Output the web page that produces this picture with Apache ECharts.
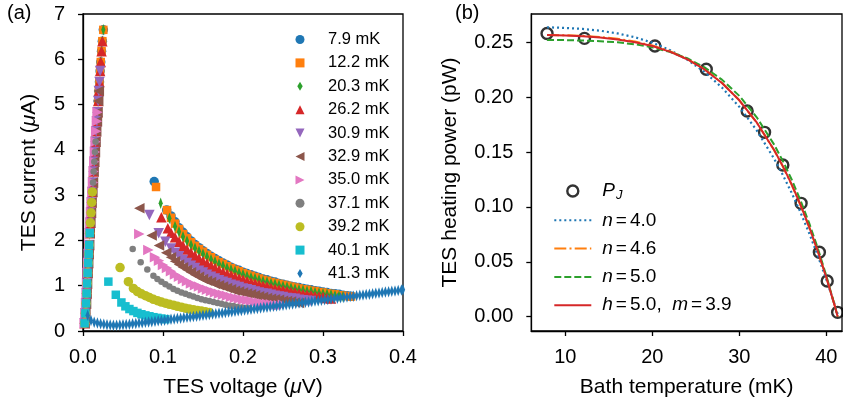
<!DOCTYPE html>
<html>
<head>
<meta charset="utf-8">
<script src="https://cdn.jsdelivr.net/npm/echarts@6/dist/echarts.min.js"></script>
<style>
  html, body { margin: 0; padding: 0; background: #fff; }
  #chart { width: 843px; height: 407px; }
</style>
</head>
<body>
<div id="chart"></div>
<script>
// ---- data: bath temperatures and heating power (panel b) ----
const bathT = [7.9, 12.2, 20.3, 26.2, 30.9, 32.9, 35.0, 37.1, 39.2, 40.1, 41.3];
const heatP = [0.258, 0.2536, 0.2466, 0.2254, 0.1874, 0.168, 0.1382, 0.1033, 0.0587, 0.0326, 0.004];

// fit curves
const fitT = [7.9, 10, 12, 14, 16, 18, 20, 22, 24, 26, 28, 30, 32, 34, 35, 36, 37, 38, 39, 40, 41, 41.3];
const fitN40 = [0.2637, 0.2631, 0.2622, 0.2606, 0.2581, 0.2546, 0.2497, 0.2430, 0.2342, 0.2230, 0.2088, 0.1912, 0.1698, 0.1439, 0.1292, 0.1131, 0.0956, 0.0766, 0.0561, 0.0339, 0.0101, 0.0025];
const fitN46 = [0.2567, 0.2564, 0.2559, 0.2548, 0.2532, 0.2507, 0.2471, 0.2420, 0.2350, 0.2255, 0.2131, 0.1972, 0.1769, 0.1517, 0.1368, 0.1204, 0.1022, 0.0821, 0.0601, 0.0360, 0.0094, 0.0];
const fitN50 = [0.2521, 0.2520, 0.2516, 0.2510, 0.2500, 0.2482, 0.2454, 0.2413, 0.2355, 0.2272, 0.2160, 0.2012, 0.1817, 0.1568, 0.1419, 0.1253, 0.1066, 0.0859, 0.0628, 0.0373, 0.0090, 0.0];
const fitHM = [0.2567, 0.2562, 0.2555, 0.2543, 0.2526, 0.2501, 0.2466, 0.2415, 0.2346, 0.2253, 0.2130, 0.1972, 0.1770, 0.1519, 0.1372, 0.1208, 0.1026, 0.0824, 0.0601, 0.0357, 0.0090, 0.0];

// ---- data: I-V curves (panel a), [voltage uV, current uA] ----
// superconducting branch, shared by all temperatures up to their critical current
const scBranch = [[0.0020, 0.17], [0.0030, 0.39], [0.0038, 0.61], [0.0045, 0.83], [0.0051, 1.05], [0.0058, 1.28], [0.0065, 1.50], [0.0071, 1.70], [0.0077, 1.90], [0.0084, 2.16], [0.0092, 2.39], [0.0100, 2.61], [0.0108, 2.84], [0.0117, 3.07], [0.0125, 3.28], [0.0133, 3.52], [0.0141, 3.74], [0.0149, 3.95], [0.0157, 4.18], [0.0165, 4.41], [0.0174, 4.63], [0.0182, 4.83], [0.0190, 5.08], [0.0198, 5.30], [0.0206, 5.50], [0.0214, 5.74], [0.0222, 5.94], [0.0232, 6.18], [0.0242, 6.40], [0.0254, 6.65]];
const scTop = [6.65, 6.65, 6.65, 6.40, 5.74, 5.30, 4.83, 4.18, 3.07, 2.16, 0];

const iv79 = [[0.089, 3.30], [0.1046, 2.67], [0.110, 2.54], [0.115, 2.41], [0.120, 2.28], [0.125, 2.18], [0.130, 2.08], [0.135, 1.99], [0.140, 1.91], [0.145, 1.84], [0.150, 1.77], [0.155, 1.71], [0.160, 1.65], [0.165, 1.60], [0.170, 1.55], [0.175, 1.50], [0.180, 1.46], [0.185, 1.41], [0.190, 1.37], [0.195, 1.34], [0.200, 1.30], [0.205, 1.27], [0.210, 1.24], [0.215, 1.21], [0.220, 1.18], [0.225, 1.15], [0.230, 1.13], [0.235, 1.10], [0.240, 1.08], [0.245, 1.05], [0.250, 1.03], [0.255, 1.01], [0.260, 0.99], [0.265, 0.97], [0.270, 0.96], [0.275, 0.94], [0.280, 0.92], [0.285, 0.91], [0.290, 0.89], [0.295, 0.88], [0.300, 0.86], [0.305, 0.85], [0.310, 0.83], [0.315, 0.82], [0.320, 0.81], [0.325, 0.79], [0.330, 0.78], [0.335, 0.77]];
const iv122 = [[0.0913, 3.18], [0.105, 2.67], [0.110, 2.50], [0.115, 2.37], [0.120, 2.25], [0.125, 2.14], [0.130, 2.05], [0.135, 1.96], [0.140, 1.88], [0.145, 1.81], [0.150, 1.75], [0.155, 1.68], [0.160, 1.63], [0.165, 1.57], [0.170, 1.52], [0.175, 1.48], [0.180, 1.43], [0.185, 1.39], [0.190, 1.35], [0.195, 1.32], [0.200, 1.28], [0.205, 1.25], [0.210, 1.22], [0.215, 1.19], [0.220, 1.16], [0.225, 1.13], [0.230, 1.11], [0.235, 1.08], [0.240, 1.06], [0.245, 1.04], [0.250, 1.02], [0.255, 1.00], [0.260, 0.98], [0.265, 0.96], [0.270, 0.94], [0.275, 0.92], [0.280, 0.91], [0.285, 0.89], [0.290, 0.88], [0.295, 0.86], [0.300, 0.85], [0.305, 0.83], [0.310, 0.82], [0.315, 0.81], [0.320, 0.79], [0.325, 0.78], [0.330, 0.77], [0.335, 0.76]];
const iv203 = [[0.0971, 2.82], [0.108, 2.49], [0.115, 2.31], [0.120, 2.19], [0.125, 2.08], [0.130, 1.99], [0.135, 1.90], [0.140, 1.83], [0.145, 1.76], [0.150, 1.70], [0.155, 1.64], [0.160, 1.58], [0.165, 1.53], [0.170, 1.48], [0.175, 1.44], [0.180, 1.39], [0.185, 1.35], [0.190, 1.32], [0.195, 1.28], [0.200, 1.25], [0.205, 1.21], [0.210, 1.18], [0.215, 1.16], [0.220, 1.13], [0.225, 1.10], [0.230, 1.08], [0.235, 1.05], [0.240, 1.03], [0.245, 1.01], [0.250, 0.99], [0.255, 0.97], [0.260, 0.95], [0.265, 0.93], [0.270, 0.91], [0.275, 0.90], [0.280, 0.88], [0.285, 0.87], [0.290, 0.85], [0.295, 0.84], [0.300, 0.82], [0.305, 0.81], [0.310, 0.80], [0.315, 0.78], [0.320, 0.77], [0.325, 0.76]];
const iv262 = [[0.098, 2.51], [0.106, 2.27], [0.110, 2.17], [0.115, 2.07], [0.120, 1.97], [0.125, 1.88], [0.130, 1.80], [0.135, 1.73], [0.140, 1.66], [0.145, 1.60], [0.150, 1.54], [0.155, 1.49], [0.160, 1.44], [0.165, 1.39], [0.170, 1.34], [0.175, 1.30], [0.180, 1.26], [0.185, 1.23], [0.190, 1.19], [0.195, 1.16], [0.200, 1.13], [0.205, 1.10], [0.210, 1.07], [0.215, 1.05], [0.220, 1.02], [0.225, 1.00], [0.230, 0.98], [0.235, 0.95], [0.240, 0.93], [0.245, 0.91], [0.250, 0.90], [0.255, 0.88], [0.260, 0.86], [0.265, 0.85], [0.270, 0.83], [0.275, 0.81], [0.280, 0.80], [0.285, 0.79], [0.290, 0.77], [0.295, 0.76], [0.300, 0.75], [0.305, 0.73], [0.310, 0.72]];
const iv309 = [[0.083, 2.56], [0.0946, 2.16], [0.103, 1.97], [0.110, 1.82], [0.115, 1.73], [0.120, 1.65], [0.125, 1.57], [0.130, 1.50], [0.135, 1.44], [0.140, 1.39], [0.145, 1.33], [0.150, 1.29], [0.155, 1.24], [0.160, 1.20], [0.165, 1.16], [0.170, 1.12], [0.175, 1.09], [0.180, 1.06], [0.185, 1.02], [0.190, 1.00], [0.195, 0.97], [0.200, 0.94], [0.205, 0.92], [0.210, 0.90], [0.215, 0.87], [0.220, 0.85], [0.225, 0.83], [0.230, 0.82], [0.235, 0.80], [0.240, 0.78], [0.245, 0.76], [0.250, 0.75], [0.255, 0.73], [0.260, 0.72], [0.265, 0.71], [0.270, 0.69], [0.275, 0.68], [0.280, 0.67], [0.285, 0.66]];
const iv329 = [[0.0704, 2.71], [0.0858, 2.11], [0.095, 1.89], [0.104, 1.73], [0.110, 1.63], [0.115, 1.54], [0.120, 1.47], [0.125, 1.41], [0.130, 1.35], [0.135, 1.30], [0.140, 1.24], [0.145, 1.20], [0.150, 1.15], [0.155, 1.11], [0.160, 1.08], [0.165, 1.04], [0.170, 1.01], [0.175, 0.98], [0.180, 0.95], [0.185, 0.92], [0.190, 0.89], [0.195, 0.87], [0.200, 0.85], [0.205, 0.83], [0.210, 0.81], [0.215, 0.79], [0.220, 0.77], [0.225, 0.75], [0.230, 0.73], [0.235, 0.71], [0.240, 0.70], [0.245, 0.69], [0.250, 0.67], [0.255, 0.66], [0.260, 0.65], [0.265, 0.63], [0.270, 0.62]];
const iv350 = [[0.0704, 2.14], [0.0817, 1.79], [0.090, 1.63], [0.095, 1.55], [0.100, 1.46], [0.105, 1.39], [0.110, 1.32], [0.115, 1.25], [0.120, 1.20], [0.125, 1.14], [0.130, 1.10], [0.135, 1.05], [0.140, 1.01], [0.145, 0.98], [0.150, 0.94], [0.155, 0.91], [0.160, 0.88], [0.165, 0.85], [0.170, 0.82], [0.175, 0.80], [0.180, 0.78], [0.185, 0.75], [0.190, 0.73], [0.195, 0.71], [0.200, 0.69], [0.205, 0.68], [0.210, 0.66], [0.215, 0.64], [0.220, 0.63], [0.225, 0.61], [0.230, 0.60], [0.235, 0.59], [0.240, 0.575], [0.245, 0.57], [0.250, 0.58]];
const iv371 = [[0.0621, 1.81], [0.0721, 1.52], [0.0804, 1.36], [0.088, 1.22], [0.093, 1.15], [0.098, 1.09], [0.103, 1.03], [0.108, 0.98], [0.113, 0.93], [0.118, 0.89], [0.123, 0.85], [0.128, 0.82], [0.133, 0.79], [0.138, 0.76], [0.143, 0.73], [0.148, 0.70], [0.153, 0.68], [0.158, 0.66], [0.163, 0.64], [0.168, 0.62], [0.173, 0.60], [0.178, 0.58], [0.183, 0.56], [0.188, 0.55], [0.193, 0.53], [0.198, 0.52], [0.203, 0.51], [0.208, 0.50]];
const iv392 = [[0.0463, 1.40], [0.0567, 1.09], [0.063, 0.94], [0.068, 0.87], [0.073, 0.82], [0.078, 0.78], [0.083, 0.74], [0.088, 0.70], [0.093, 0.67], [0.098, 0.64], [0.103, 0.615], [0.108, 0.59], [0.113, 0.57], [0.118, 0.545], [0.123, 0.525], [0.128, 0.505], [0.133, 0.485], [0.138, 0.47], [0.143, 0.455], [0.148, 0.44], [0.153, 0.425], [0.158, 0.41]];
const iv401 = [[0.0317, 1.09], [0.041, 0.80], [0.048, 0.63], [0.053, 0.545], [0.058, 0.485], [0.063, 0.44], [0.068, 0.40], [0.073, 0.37], [0.078, 0.345], [0.083, 0.325], [0.088, 0.305], [0.093, 0.29], [0.098, 0.275], [0.103, 0.262]];
const iv413 = [[0.0058, 0.35], [0.010, 0.23], [0.014, 0.195], [0.018, 0.175], [0.022, 0.16], [0.026, 0.148], [0.030, 0.138], [0.034, 0.132], [0.038, 0.129], [0.042, 0.129], [0.046, 0.132], [0.050, 0.137], [0.054, 0.144], [0.058, 0.151], [0.062, 0.159], [0.066, 0.167], [0.070, 0.175], [0.074, 0.183], [0.078, 0.191], [0.082, 0.199], [0.086, 0.207], [0.090, 0.215], [0.094, 0.224], [0.098, 0.232], [0.102, 0.24], [0.106, 0.249], [0.110, 0.257], [0.114, 0.266], [0.118, 0.275], [0.122, 0.284], [0.126, 0.293], [0.130, 0.302], [0.134, 0.31], [0.138, 0.319], [0.142, 0.328], [0.146, 0.337], [0.150, 0.346], [0.154, 0.355], [0.158, 0.364], [0.162, 0.373], [0.166, 0.382], [0.170, 0.391], [0.174, 0.40], [0.178, 0.409], [0.182, 0.418], [0.186, 0.427], [0.190, 0.436], [0.194, 0.445], [0.198, 0.454], [0.202, 0.463], [0.206, 0.472], [0.210, 0.481], [0.214, 0.49], [0.218, 0.499], [0.222, 0.508], [0.226, 0.517], [0.230, 0.526], [0.234, 0.535], [0.238, 0.544], [0.242, 0.553], [0.246, 0.562], [0.250, 0.571], [0.254, 0.58], [0.258, 0.589], [0.262, 0.598], [0.266, 0.607], [0.270, 0.616], [0.274, 0.625], [0.278, 0.634], [0.282, 0.643], [0.286, 0.652], [0.290, 0.661], [0.294, 0.67], [0.298, 0.679], [0.302, 0.688], [0.306, 0.697], [0.310, 0.706], [0.314, 0.715], [0.318, 0.724], [0.322, 0.733], [0.326, 0.742], [0.330, 0.751], [0.334, 0.76], [0.338, 0.769], [0.342, 0.778], [0.346, 0.787], [0.350, 0.796], [0.354, 0.805], [0.358, 0.814], [0.362, 0.823], [0.366, 0.832], [0.370, 0.841], [0.374, 0.85], [0.378, 0.859], [0.382, 0.868], [0.386, 0.877], [0.390, 0.886], [0.394, 0.895], [0.398, 0.904], [0.400, 0.91]];
const ivTails = [iv79, iv122, iv203, iv262, iv309, iv329, iv350, iv371, iv392, iv401, iv413];

// tick labels
const xTicksA = [0, 0.1, 0.2, 0.3, 0.4];
const yTicksA = [0, 1, 2, 3, 4, 5, 6, 7];
const xTicksB = [10, 20, 30, 40];
const yTicksB = [0, 0.05, 0.10, 0.15, 0.20, 0.25];

// ---- styles ----
const FONT = '"Liberation Sans", Arial, sans-serif';
const palette = ['#1f77b4', '#ff7f0e', '#2ca02c', '#d62728', '#9467bd', '#8c564b', '#e377c2', '#7f7f7f', '#bcbd22', '#17becf', '#1f77b4'];
const SQUARE = 'path://M0,0 L10,0 L10,10 L0,10 Z';
const DIAMOND = 'path://M3,0 L6,5 L3,10 L0,5 Z';
const TRI_UP = 'path://M0,10 L5,0 L10,10 Z';
const TRI_DOWN = 'path://M0,0 L10,0 L5,10 Z';
const TRI_LEFT = 'path://M10,0 L10,10 L0,5 Z';
const TRI_RIGHT = 'path://M0,0 L10,5 L0,10 Z';
const markers = [
  { symbol: 'circle', size: 9.5 },
  { symbol: SQUARE, size: [8.5, 8.5] },
  { symbol: DIAMOND, size: [7, 11.5] },
  { symbol: TRI_UP, size: [10.5, 10.5] },
  { symbol: TRI_DOWN, size: [10.5, 10.5] },
  { symbol: TRI_LEFT, size: [10.5, 10.5] },
  { symbol: TRI_RIGHT, size: [10.5, 10.5] },
  { symbol: 'circle', size: 6.5 },
  { symbol: 'circle', size: 9.5 },
  { symbol: SQUARE, size: [8.5, 8.5] },
  { symbol: DIAMOND, size: [7, 11.5] }
];
const tempLabels = bathT.map(t => t.toFixed(1) + ' mK');

const axisBase = {
  axisLine: { show: true, onZero: false, lineStyle: { color: '#000', width: 1.3 } },
  axisTick: { show: true, inside: false, length: 5, lineStyle: { color: '#000', width: 1.3 } },
  splitLine: { show: false },
  nameLocation: 'middle',
  nameTextStyle: {
    color: '#000', fontSize: 21, fontFamily: FONT,
    rich: { it: { fontStyle: 'italic', fontSize: 21, fontFamily: FONT, color: '#000' } }
  }
};
const labelBase = { color: '#000', fontSize: 20, fontFamily: FONT };

const chart = echarts.init(document.getElementById('chart'), null, { renderer: 'canvas' });

const leftSeries = bathT.map((t, i) => ({
  name: tempLabels[i],
  type: 'scatter',
  xAxisIndex: 0,
  yAxisIndex: 0,
  symbol: markers[i].symbol,
  symbolSize: markers[i].size,
  symbolKeepAspect: true,
  itemStyle: { color: palette[i], opacity: 1 },
  silent: true,
  data: scBranch.filter(p => p[1] <= scTop[i]).concat(ivTails[i])
}));

const fitLines = [
  { name: 'n40', vals: fitN40, color: '#1f77b4', type: [2, 3], width: 2.2 },
  { name: 'n46', vals: fitN46, color: '#ff7f0e', type: [12, 3.2, 2, 3.2], width: 2 },
  { name: 'n50', vals: fitN50, color: '#2ca02c', type: [7, 3], width: 2 },
  { name: 'hm', vals: fitHM, color: '#d62728', type: 'solid', width: 2 }
];

const rightSeries = [{
  name: 'PJ',
  type: 'scatter',
  xAxisIndex: 1,
  yAxisIndex: 1,
  symbol: 'circle',
  symbolSize: 11,
  itemStyle: { color: 'rgba(0,0,0,0)', borderColor: '#000', borderWidth: 2.4 },
  silent: true,
  data: bathT.map((t, i) => [t, heatP[i]])
}].concat(fitLines.map(f => ({
  name: f.name,
  type: 'line',
  xAxisIndex: 1,
  yAxisIndex: 1,
  symbol: 'none',
  showSymbol: false,
  silent: true,
  lineStyle: { color: f.color, width: f.width, type: f.type },
  itemStyle: { color: f.color },
  data: fitT.map((t, i) => [t, f.vals[i]])
})));

const rightLabels = {
  PJ: '{it|P}{sub|J}',
  n40: '{it|n}{eq|=}4.0',
  n46: '{it|n}{eq|=}4.6',
  n50: '{it|n}{eq|=}5.0',
  hm: '{it|h}{eq|=}5.0,  {it|m}{eq|=}3.9'
};
const hiddenDot = { opacity: 0 };

const option = {
  animation: false,
  backgroundColor: '#fff',
  textStyle: { fontFamily: FONT },
  grid: [
    { left: 83, top: 14, right: 440, bottom: 76, show: true, borderColor: '#000', borderWidth: 1.3, backgroundColor: 'transparent', containLabel: false, outerBoundsMode: 'none' },
    { left: 531.3, top: 14, right: 1, bottom: 76, show: true, borderColor: '#000', borderWidth: 1.3, backgroundColor: 'transparent', containLabel: false, outerBoundsMode: 'none' }
  ],
  xAxis: [
    Object.assign({}, axisBase, {
      gridIndex: 0, type: 'value', min: 0, max: 0.4,
      axisLabel: Object.assign({}, labelBase, { margin: 16, customValues: xTicksA, formatter: v => v.toFixed(1) }),
      axisTick: Object.assign({}, axisBase.axisTick, { customValues: xTicksA }),
      name: 'TES voltage ({it|μ}V)', nameGap: 46
    }),
    Object.assign({}, axisBase, {
      gridIndex: 1, type: 'value', min: 6.09, max: 41.8,
      axisLabel: Object.assign({}, labelBase, { margin: 16, customValues: xTicksB, formatter: v => String(v) }),
      axisTick: Object.assign({}, axisBase.axisTick, { customValues: xTicksB }),
      name: 'Bath temperature (mK)', nameGap: 46
    })
  ],
  yAxis: [
    Object.assign({}, axisBase, {
      gridIndex: 0, type: 'value', min: 0, max: 7,
      axisLabel: Object.assign({}, labelBase, { margin: 18, customValues: yTicksA, formatter: v => String(v) }),
      axisTick: Object.assign({}, axisBase.axisTick, { customValues: yTicksA }),
      name: 'TES current ({it|μ}A)', nameGap: 43
    }),
    Object.assign({}, axisBase, {
      gridIndex: 1, type: 'value', min: -0.013, max: 0.2758,
      axisLabel: Object.assign({}, labelBase, { margin: 18, customValues: yTicksB, formatter: v => v.toFixed(2) }),
      axisTick: Object.assign({}, axisBase.axisTick, { customValues: yTicksB }),
      name: 'TES heating power (pW)', nameGap: 71
    })
  ],
  legend: [
    {
      data: tempLabels,
      orient: 'vertical',
      left: 290.5,
      top: 26,
      itemWidth: 14,
      itemHeight: 9,
      itemGap: 6.4,
      selectedMode: false,
      textStyle: { color: '#000', fontSize: 16.5, fontFamily: FONT, lineHeight: 16, padding: [0, 0, 0, 16] }
    },
    {
      data: [
        { name: 'PJ', itemStyle: { color: 'rgba(0,0,0,0)', borderColor: '#000', borderWidth: 2.4 } },
        { name: 'n40', itemStyle: hiddenDot },
        { name: 'n46', itemStyle: hiddenDot },
        { name: 'n50', itemStyle: hiddenDot },
        { name: 'hm', itemStyle: hiddenDot }
      ],
      orient: 'vertical',
      left: 548.3,
      top: 176,
      itemWidth: 37,
      itemHeight: 11,
      itemGap: 8.3,
      selectedMode: false,
      formatter: name => rightLabels[name],
      textStyle: {
        color: '#000', fontSize: 19, fontFamily: FONT, lineHeight: 20, padding: [0, 0, 0, 6],
        rich: {
          it: { fontStyle: 'italic', fontSize: 19, fontFamily: FONT, color: '#000' },
          sub: { fontStyle: 'italic', fontSize: 13, fontFamily: FONT, color: '#000', padding: [9, 0, 0, 1] },
          eq: { fontSize: 19, fontFamily: FONT, color: '#000', padding: [0, 3, 0, 3] }
        }
      }
    }
  ],
  graphic: [
    { type: 'text', left: 7, top: 3, style: { text: '(a)', fontSize: 20, fontFamily: FONT, fill: '#000' } },
    { type: 'text', left: 455, top: 3, style: { text: '(b)', fontSize: 20, fontFamily: FONT, fill: '#000' } }
  ],
  series: leftSeries.concat(rightSeries)
};

chart.setOption(option);
</script>
</body>
</html>
